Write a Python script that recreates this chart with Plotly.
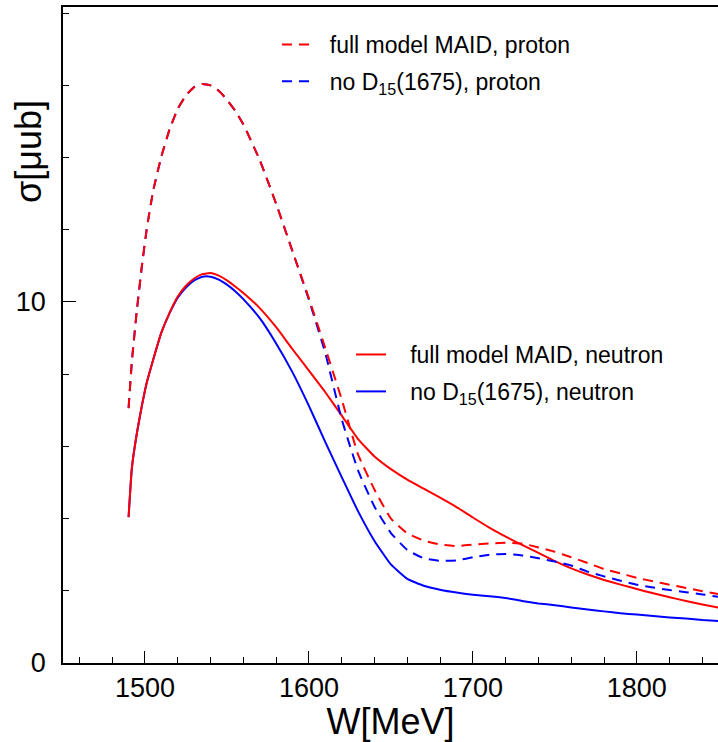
import plotly.graph_objects as go

W = [1490, 1492, 1495, 1498, 1501, 1505, 1510, 1515, 1520, 1525, 1530, 1535, 1540, 1545,
     1550, 1555, 1560, 1570, 1580, 1590, 1600, 1610, 1620, 1630, 1640, 1650, 1660, 1670,
     1680, 1690, 1700, 1710, 1720, 1730, 1740, 1750, 1760, 1770, 1780, 1790, 1800, 1810,
     1820, 1830, 1840, 1850]

proton_full = [7.06, 8.35, 9.75, 10.95, 12.0, 13.08, 14.03, 14.78, 15.35, 15.72, 15.95, 16.04, 16.0, 15.85,
               15.6, 15.3, 14.92, 13.93, 12.72, 11.4, 10.1, 8.72, 7.3, 5.77, 4.8, 4.0, 3.59, 3.39,
               3.28, 3.24, 3.28, 3.31, 3.33, 3.31, 3.2, 3.08, 2.93, 2.77, 2.6, 2.48, 2.36, 2.26,
               2.17, 2.08, 1.99, 1.91]

proton_noD15 = [7.06, 8.35, 9.75, 10.95, 12.0, 13.08, 14.03, 14.78, 15.35, 15.72, 15.95, 16.04, 16.0, 15.85,
                15.6, 15.3, 14.92, 13.93, 12.72, 11.4, 10.06, 8.58, 6.75, 5.33, 4.33, 3.6, 3.13, 2.9,
                2.83, 2.84, 2.93, 3.0, 3.02, 2.98, 2.9, 2.81, 2.7, 2.53, 2.4, 2.28, 2.17, 2.09,
                2.02, 1.96, 1.9, 1.83]

neutron_full = [4.04, 5.4, 6.35, 7.1, 7.75, 8.4, 9.15, 9.7, 10.15, 10.45, 10.65, 10.77, 10.8, 10.73,
                10.6, 10.43, 10.25, 9.83, 9.3, 8.69, 8.1, 7.5, 6.85, 6.2, 5.72, 5.37, 5.08, 4.83,
                4.58, 4.32, 4.03, 3.75, 3.5, 3.27, 3.05, 2.82, 2.62, 2.45, 2.3, 2.17, 2.05, 1.93,
                1.82, 1.72, 1.62, 1.53]

neutron_noD15 = [4.04, 5.4, 6.35, 7.1, 7.75, 8.4, 9.15, 9.69, 10.12, 10.4, 10.6, 10.7, 10.7, 10.62,
                 10.48, 10.3, 10.08, 9.55, 8.85, 8.05, 7.12, 6.12, 5.15, 4.2, 3.38, 2.73, 2.33, 2.14,
                 2.03, 1.95, 1.89, 1.85, 1.8, 1.72, 1.65, 1.6, 1.54, 1.48, 1.43, 1.38, 1.34, 1.3,
                 1.26, 1.23, 1.19, 1.16]

names = ["full model MAID, proton", "no D<sub>15</sub>(1675), proton",
         "full model MAID, neutron", "no D<sub>15</sub>(1675), neutron"]
y_title = "σ[μub]"
x_title = "W[MeV]"

FONT = "Liberation Sans, Arial, Helvetica, sans-serif"
RED = "#ff0000"
BLUE = "#0000ff"
NB = "\u00a0"

fig = go.Figure()
series = [
    (proton_full, RED, "10px,7px", "legend", NB * 2 + names[0]),
    (proton_noD15, BLUE, "10px,7px", "legend", NB * 2 + names[1]),
    (neutron_full, RED, "solid", "legend2", NB * 3 + names[2]),
    (neutron_noD15, BLUE, "solid", "legend2", NB * 3 + names[3]),
]
order = [3, 2, 1, 0]
for i in order:
    vals, col, dash, leg, nm = series[i]
    fig.add_trace(go.Scatter(
        x=W, y=vals, mode="lines", name=nm, legend=leg, legendgroup=str(i),
        legendrank=i,
        line=dict(color=col, width=2, dash=dash, shape="spline", smoothing=0.4),
    ))

fig.update_layout(
    width=718, height=742,
    margin=dict(l=63, r=0, t=7, b=79),
    paper_bgcolor="white", plot_bgcolor="white",
    font=dict(family=FONT, color="black"),
    legend=dict(x=0.3267, y=0.9756, xanchor="left", yanchor="top",
                font=dict(size=23, family=FONT), bgcolor="rgba(0,0,0,0)",
                tracegroupgap=4, itemwidth=30),
    legend2=dict(x=0.4397, y=0.503, xanchor="left", yanchor="top",
                 font=dict(size=23, family=FONT), bgcolor="rgba(0,0,0,0)",
                 tracegroupgap=4, itemwidth=30),
    xaxis=dict(
        range=[1450, 1849.5], showgrid=False, zeroline=False,
        showline=True, linecolor="black", linewidth=1.5, mirror=True,
        ticks="inside", ticklen=12, tickwidth=1, tickcolor="black", dtick=100, tick0=1500,
        minor=dict(ticks="inside", ticklen=6, dtick=20, tick0=1500, tickcolor="black", showgrid=False),
        tickfont=dict(size=27, family=FONT),
        title=dict(text=x_title, font=dict(size=36, family=FONT), standoff=4),
    ),
    yaxis=dict(
        range=[0, 18.17], showgrid=False, zeroline=False,
        showline=True, linecolor="black", linewidth=1.5,
        ticks="inside", ticklen=13, tickwidth=1, tickcolor="black", dtick=10, tick0=0,
        minor=dict(ticks="inside", ticklen=6, dtick=2, tick0=0, tickcolor="black", showgrid=False),
        tickfont=dict(size=27, family=FONT), ticklabelstandoff=10,
    ),
    annotations=[dict(
        text=y_title, xref="paper", yref="paper", x=-0.0519, y=0.779,
        xanchor="center", yanchor="middle", textangle=-90, showarrow=False,
        font=dict(size=36, family=FONT),
    )],
)

fig.write_html("out.html")
